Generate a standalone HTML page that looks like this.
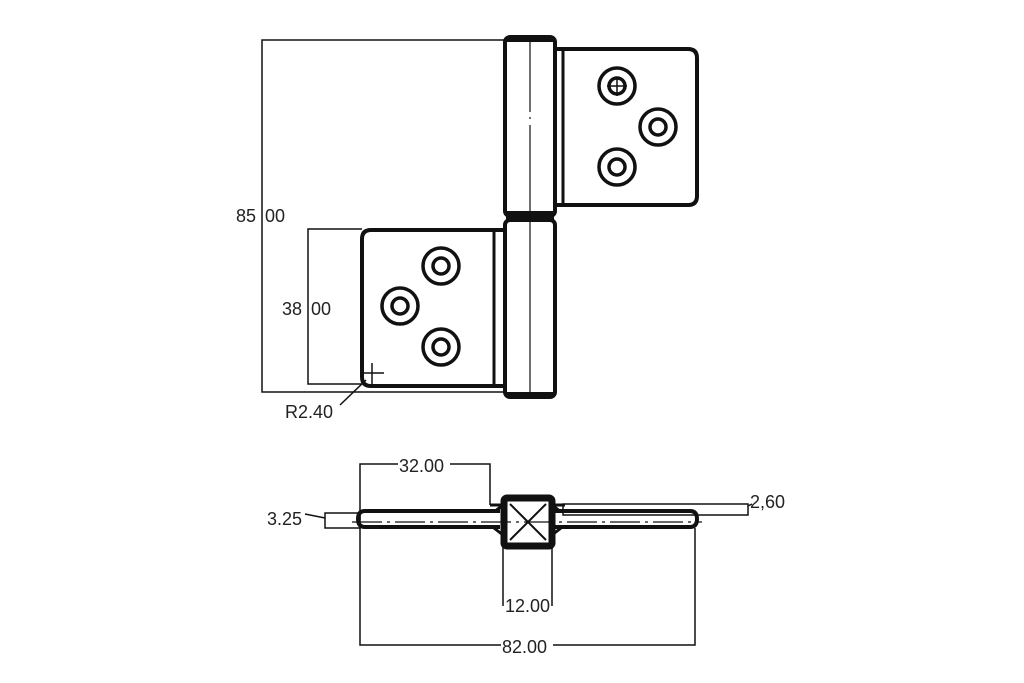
<!DOCTYPE html>
<html><head><style>html,body{margin:0;padding:0;background:#fff}svg{display:block}</style></head><body>
<svg width="1024" height="683" viewBox="0 0 1024 683" xmlns="http://www.w3.org/2000/svg" font-family="Liberation Sans, DejaVu Sans, sans-serif" font-size="17" fill="none" stroke="#111">
<!-- dimension lines top -->
<g stroke-width="1.5">
<polyline points="505,40 262,40 262,392 505,392"/>
<polyline points="362,229 308,229 308,384 362,384"/>
<line x1="340" y1="405" x2="366" y2="380"/>
<line x1="372" y1="363" x2="372" y2="384"/>
<line x1="362" y1="373" x2="384" y2="373"/>
</g>
<!-- barrel -->
<rect x="505" y="37" width="50" height="179" rx="5" stroke-width="4"/>
<rect x="505" y="220" width="50" height="177" rx="5" stroke-width="4"/>
<rect x="506" y="211" width="48" height="11" fill="#111" stroke="none"/>
<rect x="506" y="37" width="48" height="5" fill="#111" stroke="none"/>
<rect x="506" y="392" width="48" height="5" fill="#111" stroke="none"/>
<line x1="530" y1="37" x2="530" y2="112" stroke-width="1.2"/>
<line x1="530" y1="117" x2="530" y2="119" stroke-width="1.2"/>
<line x1="530" y1="125" x2="530" y2="397" stroke-width="1.2"/>
<!-- upper leaf -->
<path d="M555,49 H688 Q697,49 697,58 V196 Q697,205 688,205 H555" stroke-width="4"/>
<line x1="563" y1="49" x2="563" y2="205" stroke-width="3"/>
<g stroke-width="3.5">
<circle cx="617" cy="86" r="18"/><circle cx="617" cy="86" r="8"/>
<circle cx="658" cy="127" r="18"/><circle cx="658" cy="127" r="8"/>
<circle cx="617" cy="167" r="18"/><circle cx="617" cy="167" r="8"/>
</g>
<line x1="617" y1="77" x2="617" y2="96" stroke-width="1.5"/><line x1="607" y1="86" x2="627" y2="86" stroke-width="1.5"/>
<!-- lower leaf -->
<path d="M505,230 H371 Q362,230 362,239 V377 Q362,386 371,386 H505" stroke-width="4"/>
<line x1="494" y1="230" x2="494" y2="386" stroke-width="3"/>
<g stroke-width="3.5">
<circle cx="441" cy="266" r="18"/><circle cx="441" cy="266" r="8"/>
<circle cx="400" cy="306" r="18"/><circle cx="400" cy="306" r="8"/>
<circle cx="441" cy="347" r="18"/><circle cx="441" cy="347" r="8"/>
</g>
<g fill="#222" stroke="none" font-size="18">
<text x="236" y="222">85</text><text x="265" y="222">00</text>
<text x="282" y="315">38</text><text x="311" y="315">00</text>
<text x="285" y="418">R2.40</text>
</g>
<!-- bottom view -->
<g stroke-width="1.5">
<polyline points="360,520 360,464 490,464 490,505"/>
<polyline points="360,528 360,645 695,645 695,528"/>
<polyline points="503,547 503,606"/><polyline points="552,547 552,606"/>
<rect x="325" y="513" width="35" height="15"/>
<rect x="563" y="504" width="185" height="11"/>
<line x1="305" y1="514" x2="325" y2="518"/>
<line x1="748" y1="506" x2="752" y2="504"/>
</g>
<path d="M500,511 H365 Q358,511 358,519 Q358,527 365,527 H500 M555,511 H690 Q697,511 697,519 Q697,527 690,527 H555" stroke-width="4"/>
<path d="M490,505 H503 M552,505 H565 M503,505 L494,512 M552,505 L561,512 M503,535 L494,528 M552,535 L561,528" stroke-width="3"/>
<rect x="504" y="498" width="48" height="48" rx="3" stroke-width="7"/>
<line x1="510" y1="504" x2="546" y2="540" stroke-width="2"/><line x1="546" y1="504" x2="510" y2="540" stroke-width="2"/>
<line x1="352" y1="522" x2="702" y2="522" stroke-width="1.2" stroke-dasharray="30,5,3,5"/>
<g fill="#222" stroke="none" font-size="18">
<rect x="398" y="455" width="52" height="20" fill="#fff"/>
<text x="399" y="472">32.00</text>
<text x="267" y="525">3.25</text>
<text x="750" y="508">2,60</text>
<text x="505" y="612">12.00</text>
<rect x="501" y="636" width="52" height="20" fill="#fff"/>
<text x="502" y="653">82.00</text>
</g>
</svg>
</body></html>
